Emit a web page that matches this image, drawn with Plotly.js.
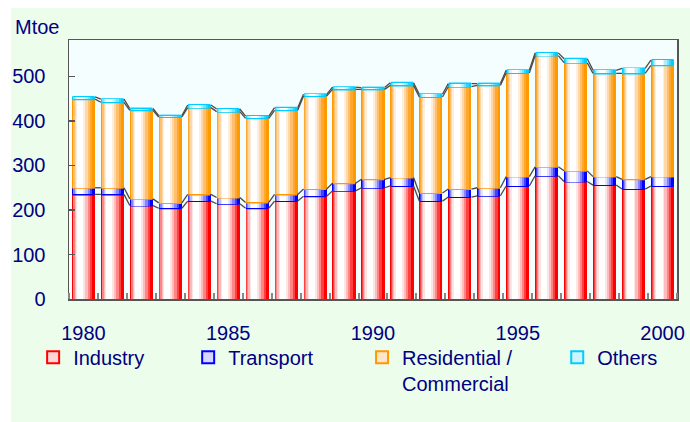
<!DOCTYPE html>
<html><head><meta charset="utf-8">
<script src="https://cdn.plot.ly/plotly-3.0.1.min.js"></script>
<style>html,body{margin:0;padding:0;background:#fff;} #chart{width:690px;height:422px;}</style>
</head><body><div id="chart"></div>
<script>
// ---- data (Mtoe) ----
const years = [1980,1981,1982,1983,1984,1985,1986,1987,1988,1989,1990,1991,1992,1993,1994,1995,1996,1997,1998,1999,2000];
const industry    = [235,235,210,204,220,214,204,220,231,243,250,254,220,229,232,254,277,264,256,247,254];
const transport   = [15,15,15,12,15,14,13,15,16,17,19,19,18,18,18,21,20,24,19,22,21];
const residential = [199,192,199,193,195,193,189,189,209,211,202,207,216,230,230,233,250,243,232,238,250];
const others      = [5,7,4,3,6,6,5,6,4,5,4,6,6,7,4,6,6,9,7,11,12];
const seriesNames = ['Industry','Transport','Residential /<br>Commercial','Others'];
const xTickLabels = ['1980','1985','1990','1995','2000'];
const yAxisLabel = 'Mtoe';

// ---- styles ----
const NAVY = '#000080';
const FONT = 'Liberation Sans, Arial, sans-serif';
const ramps = [
  ['#ff0000','#ff4040','#ff8484','#ffbcbc','#ffe4e4','#ffffff'],
  ['#0000ff','#4040ff','#8484ff','#bcbcff','#e4e4ff','#ffffff'],
  ['#ff9900','#ffa830','#ffbf6c','#ffd8a8','#ffeedd','#ffffff'],
  ['#00ccff','#30d4ff','#78e2ff','#b0eeff','#dcf8ff','#ffffff']
];
const legendFill = ['#ffd6d6','#d6d6ff','#ffe6c8','#d0f4ff'];
const layers = [[-0.40,0.40],[-0.375,0.30],[-0.345,0.22],[-0.305,0.14],[-0.26,0.065],[-0.21,0.00]];
const legendIds = ['legend','legend2','legend3','legend4'];

const series = [industry, transport, residential, others];
const traces = [];
let cum = years.map(() => 0);
const tops = [];
series.forEach((vals, s) => {
  const base = cum.slice();
  // legend-carrying trace (hidden beneath the gradient layers)
  traces.push({
    type:'bar', x: years, y: vals, base: base, width: 0.7, offset: -0.35,
    name: seriesNames[s], legend: legendIds[s], showlegend: true,
    marker:{color: legendFill[s], line:{color: ramps[s][0], width: 2}},
    hoverinfo:'skip'
  });
  layers.forEach((lr, k) => {
    traces.push({
      type:'bar', x: years, y: vals, base: base, width: lr[1]-lr[0], offset: lr[0],
      showlegend:false, marker:{color: ramps[s][k], line:{width:0}}, hoverinfo:'skip'
    });
  });
  cum = cum.map((c, i) => c + vals[i]);
  tops.push(cum.slice());
});
// series lines between bars
tops.forEach(t => {
  const lx = [], ly = [];
  for (let i = 0; i < years.length - 1; i++) {
    lx.push(years[i] + 0.4, years[i+1] - 0.4, null);
    ly.push(t[i], t[i+1], null);
  }
  traces.push({type:'scatter', mode:'lines', x: lx, y: ly, showlegend:false,
    line:{color:'#4a4a4a', width:1.3}, hoverinfo:'skip'});
});

const legendBase = {orientation:'h', xanchor:'left', yanchor:'top', y:-0.15,
  bgcolor:'rgba(0,0,0,0)', valign:'top', font:{family:FONT, size:20, color:NAVY}};
const layout = {
  width:690, height:422,
  margin:{l:69, r:13, t:40, b:123},
  paper_bgcolor:'#ffffff', plot_bgcolor:'rgba(0,0,0,0)',
  barmode:'overlay', bargap:0,
  font:{family:FONT, size:20, color:NAVY},
  shapes:[
    {type:'rect', xref:'paper', yref:'paper', x0:-0.0954, x1:1.03, y0:-0.475, y1:1.1236,
     fillcolor:'#ecfdec', line:{width:0}, layer:'below'},
    {type:'rect', xref:'paper', yref:'paper', x0:0, x1:1, y0:0, y1:1,
     fillcolor:'#f4fefe', line:{width:0}, layer:'below'}
  ],
  xaxis:{range:[1979.5,2000.5], tickmode:'array', tickvals:xTickLabels.map(Number), ticktext:xTickLabels,
    ticks:'', showgrid:false, zeroline:false, showline:true, linecolor:'#555', linewidth:1.5, mirror:true,
    ticklabelstandoff:15, tickfont:{size:20, color:NAVY},
    minor:{tickmode:'array', tickvals: years.map(y => y - 0.5).concat([years[years.length-1] + 0.5]),
      ticks:'inside', ticklen:6, tickwidth:2, tickcolor:'#888', showgrid:false}},
  yaxis:{range:[0,582], dtick:100, ticks:'inside', ticklen:6, tickwidth:1.5, tickcolor:'#555',
    showgrid:false, zeroline:false, showline:true, linecolor:'#555', linewidth:1.5, mirror:true,
    ticklabelstandoff:18, tickfont:{size:20, color:NAVY}},
  annotations:[{text:yAxisLabel, xref:'paper', yref:'paper', x:-0.092, y:1.05, xanchor:'left', yanchor:'middle',
    showarrow:false, font:{size:20, color:NAVY}}],
  legend:  Object.assign({}, legendBase, {x:-0.059}),
  legend2: Object.assign({}, legendBase, {x:0.196}),
  legend3: Object.assign({}, legendBase, {x:0.482}),
  legend4: Object.assign({}, legendBase, {x:0.803}),
  showlegend:true
};
Plotly.newPlot('chart', traces, layout, {staticPlot:true, displayModeBar:false});
</script>
</body></html>
